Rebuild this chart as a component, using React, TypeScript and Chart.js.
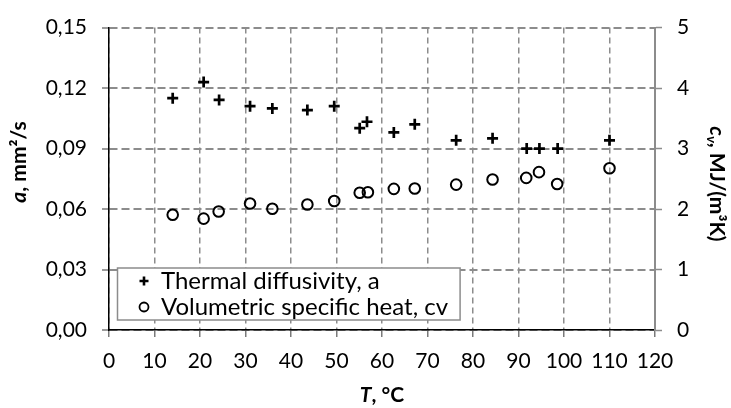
import React, { useEffect, useRef } from 'react';
import { Chart, registerables } from 'chart.js';

Chart.register(...registerables);

// ---- data ----
const diffTemperature = [14.0, 20.8, 24.2, 31.0, 35.9, 43.6, 49.5, 55.1, 56.7, 62.6, 67.2, 76.3, 84.3, 91.8, 94.6, 98.6, 110.0];
const diffusivity = [0.1150, 0.1230, 0.1141, 0.1110, 0.1099, 0.1091, 0.1110, 0.1001, 0.1033, 0.0980, 0.1020, 0.0941, 0.0951, 0.0900, 0.0900, 0.0900, 0.0941];
const cvTemperature = [14.0, 20.8, 24.1, 31.0, 35.9, 43.6, 49.5, 55.1, 56.9, 62.6, 67.2, 76.3, 84.3, 91.7, 94.5, 98.5, 110.0];
const heatCapacity = [1.905, 1.841, 1.959, 2.091, 2.006, 2.075, 2.134, 2.270, 2.277, 2.334, 2.340, 2.404, 2.488, 2.515, 2.610, 2.413, 2.674];

const seriesLabels = ['Thermal diffusivity, a', 'Volumetric specific heat, cv'];

const xTicks = [0, 10, 20, 30, 40, 50, 60, 70, 80, 90, 100, 110, 120];
const xTickLabels = ['0', '10', '20', '30', '40', '50', '60', '70', '80', '90', '100', '110', '120'];
const yTicks = [0, 0.03, 0.06, 0.09, 0.12, 0.15];
const yTickLabels = ['0,00', '0,03', '0,06', '0,09', '0,12', '0,15'];
const y2Ticks = [0, 1, 2, 3, 4, 5];
const y2TickLabels = ['0', '1', '2', '3', '4', '5'];

const FONT = 'Lato';
const GRID = '#8c8c8c';

const overlayPlugin = {
  id: 'overlay',
  afterDraw(chart: any) {
    const ctx = chart.ctx as CanvasRenderingContext2D;
    const area = chart.chartArea;
    ctx.save();
    ctx.fillStyle = '#000';
    ctx.textBaseline = 'middle';

    const drawRuns = (runs: { t: string; f: string; dy?: number }[], cx: number, cy: number, rot: number) => {
      let total = 0;
      for (const r of runs) { ctx.font = r.f; total += ctx.measureText(r.t).width; }
      ctx.save();
      ctx.translate(cx, cy);
      ctx.rotate(rot);
      let x = -total / 2;
      ctx.textAlign = 'left';
      for (const r of runs) {
        ctx.font = r.f;
        ctx.fillText(r.t, x, r.dy || 0);
        x += ctx.measureText(r.t).width;
      }
      ctx.restore();
    };

    const bi = `italic bold 21px ${FONT}`;
    const b = `bold 21px ${FONT}`;
    // x title
    drawRuns([{ t: 'T', f: bi }, { t: ', °C', f: b }], (area.left + area.right) / 2, 395, 0);
    // left title
    drawRuns([{ t: 'a', f: bi }, { t: ', mm²/s', f: b }], 19, 162, -Math.PI / 2);
    // right title
    drawRuns([
      { t: 'c', f: bi },
      { t: 'v', f: `italic bold 14px ${FONT}`, dy: 5 },
      { t: ', MJ/(m³K)', f: b },
    ], 717, 184, Math.PI / 2);

    // legend box
    ctx.font = `24px ${FONT}`;
    const textX = 161;
    const w = Math.max(...seriesLabels.map((l) => ctx.measureText(l).width));
    const bx = 117.5, by = 268, bh = 52;
    const bw = textX + w + 12 - bx;
    ctx.fillStyle = '#fff';
    ctx.fillRect(bx, by, bw, bh);
    ctx.strokeStyle = GRID;
    ctx.lineWidth = 1.5;
    ctx.strokeRect(bx, by, bw, bh);
    const rows = [281, 307];
    ctx.fillStyle = '#000';
    ctx.textAlign = 'left';
    seriesLabels.forEach((l, i) => ctx.fillText(l, textX, rows[i]));
    // markers
    ctx.strokeStyle = '#000';
    ctx.lineWidth = 2.6;
    ctx.beginPath();
    ctx.moveTo(144 - 4.5, rows[0]); ctx.lineTo(144 + 4.5, rows[0]);
    ctx.moveTo(144, rows[0] - 4.5); ctx.lineTo(144, rows[0] + 4.5);
    ctx.stroke();
    ctx.lineWidth = 1.8;
    ctx.beginPath();
    ctx.arc(144, rows[1], 4.5, 0, Math.PI * 2);
    ctx.stroke();
    ctx.restore();
  },
};

export default function App() {
  const ref = useRef<HTMLCanvasElement>(null);
  useEffect(() => {
    document.body.style.margin = '0';
    const canvas = ref.current!;
    const tickFont = { family: FONT, size: 21 };
    const chart = new Chart(canvas, {
      type: 'scatter',
      data: {
        datasets: [
          {
            label: seriesLabels[0],
            data: diffTemperature.map((t, i) => ({ x: t, y: diffusivity[i] })),
            yAxisID: 'y',
            pointStyle: 'cross',
            pointRadius: 5.5,
            pointBorderWidth: 2.7,
            borderColor: '#000',
            backgroundColor: '#000',
            showLine: false,
          },
          {
            label: seriesLabels[1],
            data: cvTemperature.map((t, i) => ({ x: t, y: heatCapacity[i] })),
            yAxisID: 'y1',
            pointStyle: 'circle',
            pointRadius: 5.3,
            pointBorderWidth: 2,
            borderColor: '#000',
            backgroundColor: 'rgba(0,0,0,0)',
            showLine: false,
          },
        ],
      },
      options: {
        animation: false,
        responsive: false,
        devicePixelRatio: 1,
        layout: { padding: { top: 15, left: 0, right: 0, bottom: 0 } },
        plugins: { legend: { display: false }, tooltip: { enabled: false } },
        scales: {
          x: {
            type: 'linear',
            position: 'bottom',
            min: 0,
            max: 120,
            afterBuildTicks: (s: any) => { s.ticks = xTicks.map((v) => ({ value: v })); },
            afterFit: (s: any) => { s.height = 78; },
            ticks: {
              callback: (_v: any, i: number) => xTickLabels[i],
              font: tickFont,
              color: '#000',
              padding: 12,
              autoSkip: false,
              maxRotation: 0,
            },
            grid: { color: GRID, lineWidth: 1.5, tickColor: '#7a7a7a', tickLength: 7, tickWidth: 1.5 },
            border: { display: true, color: '#000', width: 1.5, dash: [6, 4] },
          },
          y: {
            type: 'linear',
            position: 'left',
            min: 0,
            max: 0.15,
            afterBuildTicks: (s: any) => { s.ticks = yTicks.map((v) => ({ value: v })); },
            afterFit: (s: any) => { s.width = 109; },
            ticks: {
              callback: (_v: any, i: number) => yTickLabels[i],
              font: tickFont,
              color: '#000',
              padding: 15,
            },
            grid: { color: GRID, lineWidth: 2, tickColor: '#7a7a7a', tickLength: 7, tickWidth: 1.5 },
            border: { display: true, color: '#000', width: 1.5, dash: [8, 4] },
          },
          y1: {
            type: 'linear',
            position: 'right',
            min: 0,
            max: 5,
            afterBuildTicks: (s: any) => { s.ticks = y2Ticks.map((v) => ({ value: v })); },
            afterFit: (s: any) => { s.width = 76; },
            ticks: {
              callback: (_v: any, i: number) => y2TickLabels[i],
              font: tickFont,
              color: '#000',
              padding: 15,
            },
            grid: { drawOnChartArea: false, color: GRID, tickColor: '#8c8c8c', tickLength: 7, tickWidth: 1.5 },
            border: { display: true, color: '#8c8c8c', width: 2 },
          },
        },
      },
      plugins: [overlayPlugin],
    } as any);
    return () => chart.destroy();
  }, []);
  return (
    <div style={{ width: 731, height: 408, background: '#fff' }}>
      <canvas ref={ref} width={731} height={408} style={{ width: 731, height: 408, display: 'block' }} />
    </div>
  );
}
